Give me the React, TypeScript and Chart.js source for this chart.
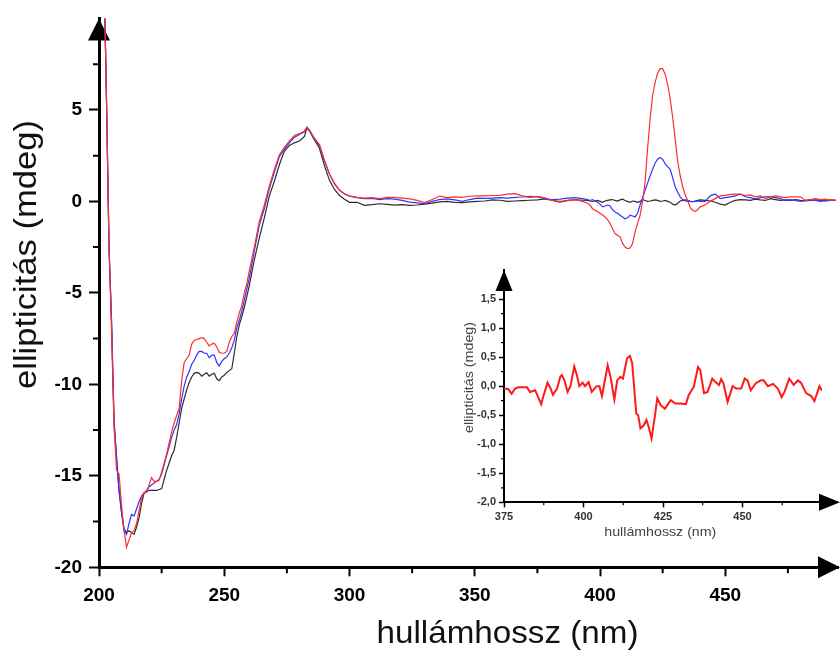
import React, { useEffect, useRef } from "react";
import { Chart, registerables } from "chart.js";

Chart.register(...registerables);

// ---------- main chart data ----------
const wavelengths = [
  200, 201, 202, 203, 204, 205, 206, 207, 208, 209, 210, 211, 212, 213, 214, 215, 216, 217, 218, 219,
  220, 221, 222, 223, 224, 225, 226, 227, 228, 229, 230, 231, 232, 233, 234, 235, 236, 237, 238, 239,
  240, 241, 242, 243, 244, 245, 246, 247, 248, 249, 250, 251, 252, 253, 254, 255, 256, 257, 258, 259, 260,
  262, 264, 266, 268, 270, 272, 274, 276, 278, 280, 282, 283, 284, 286, 288, 290, 292, 294, 296, 298, 300,
  303, 306, 309, 312, 315, 318, 321, 324, 327, 330, 333, 336, 339, 342, 345, 348, 351, 354, 357, 360,
  363, 366, 369, 372, 375, 378, 381, 384, 387, 390, 393,
  395, 396, 397, 398, 399, 400, 401, 402, 403, 404, 405, 406, 407, 408, 409, 410, 411, 412, 413, 414,
  415, 416, 417, 418, 419, 420, 421, 422, 423, 424, 425, 426, 427, 428, 429, 430, 431, 432, 433, 434,
  435, 436, 437, 438, 439, 440,
  442, 444, 446, 448, 450, 452, 454, 456, 458, 460, 462, 464, 466, 468, 470, 472, 474, 476, 478, 480,
  482, 484, 486, 488, 490, 492, 494,
];

const redSeries = [
  22, 16.5, 12.5, 5.5, -2.5, -7.0, -12.3, -14.7, -14.9, -16.6, -18.0, -18.9, -18.5, -18.1, -18.0, -17.6, -16.9, -16.2, -15.9, -15.9,
  -15.5, -15.1, -15.3, -15.3, -15.25, -14.8, -14.3, -13.8, -13.2, -12.6, -12.1, -11.7, -11.3, -9.8, -8.8, -8.6, -8.4, -7.8, -7.6, -7.55,
  -7.5, -7.45, -7.5, -7.7, -7.9, -7.8, -7.75, -7.95, -8.25, -8.3, -8.3, -8.2, -7.7, -7.4, -7.2, -6.6, -6.1, -5.7, -5.0, -4.5, -3.8,
  -2.5, -1.1, -0.2, 0.85, 1.75, 2.55, 2.95, 3.3, 3.6, 3.7, 3.85, 4.05, 3.9, 3.45, 3.1, 2.25, 1.5, 1.0, 0.62, 0.42, 0.3,
  0.22, 0.18, 0.2, 0.15, 0.22, 0.22, 0.18, 0.14, 0.05, -0.07, 0.1, 0.29, 0.2, 0.24, 0.22, 0.28, 0.3, 0.3, 0.32, 0.33,
  0.4, 0.42, 0.3, 0.22, 0.27, 0.2, 0.05, 0.0, 0.04, 0.1, 0.0,
  -0.1, -0.2, -0.4, -0.48, -0.55, -0.65, -0.75, -0.85, -1.0, -1.2, -1.5, -1.76, -1.85, -1.94, -2.3, -2.5, -2.58, -2.55, -2.3, -1.67,
  -1.2, -0.76, 0.0, 1.05, 2.9, 4.5, 5.8, 6.5, 7.0, 7.25, 7.25, 6.95, 6.4, 5.6, 4.6, 3.4, 2.2, 1.4, 0.8, 0.35,
  0.05, -0.35, -0.5, -0.55, -0.45, -0.3,
  -0.2, 0.0, 0.15, 0.3, 0.33, 0.38, 0.4, 0.4, 0.32, 0.35, 0.25, 0.3, 0.15, 0.25, 0.3, 0.25, 0.2, 0.25, 0.25, 0.25,
  0.05, 0.1, 0.15, 0.1, 0.12, 0.05, 0.08,
];

const blueSeries = [
  22, 16.5, 12.5, 5.5, -2.5, -6.5, -12.0, -14.0, -15.8, -17.0, -18.0, -18.2, -17.6, -17.1, -17.2, -16.8, -16.4, -16.1, -15.95, -15.8,
  -15.6, -15.5, -15.4, -15.3, -15.2, -14.9, -14.4, -13.9, -13.4, -12.9, -12.5, -12.2, -11.6, -10.8, -10.1, -9.6, -9.3, -8.9, -8.7, -8.4,
  -8.2, -8.2, -8.3, -8.3, -8.55, -8.4, -8.4, -8.8, -9.0, -8.75, -8.6, -8.5, -8.3, -8.0, -7.6, -6.9, -6.5, -6.0, -5.4, -4.8, -4.2,
  -2.7, -1.3, -0.4, 0.7, 1.6, 2.45, 2.85, 3.2, 3.5, 3.65, 3.8, 4.05, 3.9, 3.4, 3.05, 2.2, 1.5, 0.95, 0.6, 0.4, 0.28,
  0.2, 0.15, 0.16, 0.1, 0.15, 0.12, 0.05, -0.04, -0.08, -0.13, 0.0, 0.1, 0.14, 0.08, 0.0, 0.1, 0.18, 0.16, 0.18, 0.2,
  0.18, 0.22, 0.24, 0.27, 0.25, 0.15, 0.09, 0.12, 0.18, 0.2, 0.15,
  0.1, 0.05, 0.1, 0.02, -0.05, -0.15, -0.3, -0.25, -0.2, -0.25, -0.45, -0.58, -0.65, -0.76, -0.85, -0.95, -0.9, -0.76, -0.8, -0.85,
  -0.65, -0.2, 0.2, 0.6, 1.0, 1.4, 1.75, 2.1, 2.3, 2.4, 2.3, 2.05, 1.9, 1.75, 1.3, 0.8, 0.5, 0.25, 0.1, 0.02,
  0.0, 0.0, -0.02, 0.0, 0.02, 0.0,
  0.0, 0.3, 0.4, 0.15, 0.2, 0.25, 0.3, 0.4, 0.25, 0.2, 0.14, 0.2, 0.25, 0.25, 0.2, 0.15, 0.05, 0.1, 0.05, 0.0,
  0.05, 0.1, 0.05, 0.0, 0.05, 0.08, 0.05,
];

const blackSeries = [
  22, 16.5, 12.5, 5.5, -2.5, -6.5, -12.0, -14.0, -15.8, -17.0, -17.9, -18.1, -18.0, -18.1, -18.2, -17.8, -17.3, -16.5, -15.95, -15.85,
  -15.8, -15.8, -15.8, -15.8, -15.75, -15.7, -15.2, -14.7, -14.3, -13.9, -13.6, -12.9, -12.1, -11.3, -10.8, -10.3, -9.9, -9.6, -9.4, -9.35,
  -9.4, -9.55, -9.45, -9.37, -9.55, -9.45, -9.4, -9.7, -9.8, -9.6, -9.5, -9.35, -9.25, -9.15, -8.3, -7.4, -6.75, -6.3, -5.8, -5.2, -4.6,
  -3.2, -2.0, -0.9, 0.3, 1.1, 2.0, 2.75, 3.05, 3.2, 3.3, 3.55, 4.0, 3.85, 3.35, 2.9, 1.95, 1.15, 0.65, 0.32, 0.12, -0.05,
  -0.05, -0.22, -0.18, -0.13, -0.16, -0.2, -0.18, -0.22, -0.2, -0.15, -0.1, -0.03, 0.0, -0.05, -0.07, -0.03, 0.0, 0.02, 0.08, 0.06,
  0.0, 0.02, 0.04, 0.06, 0.08, 0.13, 0.05, -0.04, 0.05, 0.09, 0.06,
  0.05, 0.02, 0.0, 0.02, 0.05, 0.0, -0.05, 0.02, 0.05, 0.08, 0.1, 0.05, 0.02, 0.08, 0.12, 0.05, 0.0, -0.05, 0.02, 0.0,
  -0.05, 0.0, 0.1, 0.05, 0.0, 0.02, 0.05, 0.08, 0.05, 0.0, 0.02, 0.05, 0.0, -0.05, -0.15, -0.2, -0.1, 0.02, 0.05, 0.08,
  0.05, 0.0, -0.02, 0.02, 0.05, 0.08,
  0.05, 0.02, -0.05, -0.15, -0.2, -0.05, 0.05, 0.1, 0.08, 0.05, 0.12, 0.08, 0.05, 0.15, 0.1, 0.05, 0.08, 0.05, 0.1, 0.05,
  0.02, 0.05, 0.08, 0.05, 0.02, 0.05, 0.05,
];

const mainXTicks = [200, 250, 300, 350, 400, 450];
const mainXMinor = [225, 275, 325, 375, 425, 475];
const mainYTicks = [-20, -15, -10, -5, 0, 5];
const mainYMinor = [-17.5, -12.5, -7.5, -2.5, 2.5, 7.5];

// ---------- inset data ----------
const insetWavelengths = [
  375, 376.3, 377.4, 378.5, 379.5, 382.2, 383.2, 384.8, 386.7, 387.4, 388.7, 389.5, 390.4, 391.7, 392.7, 393.2,
  394, 395, 395.9, 397.1, 397.9, 398.7, 399.7, 400.5, 401.6, 402.6, 404.1, 405, 405.8, 407.6, 408.5, 409.7,
  410.6, 411.6, 412.4, 413.7, 414.6, 415.3, 416.6, 417.2, 417.9, 419, 419.8, 420.6, 421.4, 422.5, 423.2, 424.3,
  425.6, 427.4, 428.9, 430.5, 432.2, 433.1, 434.7, 436, 436.7, 437.9, 439, 440.5, 441.5, 442.6, 443.3, 444,
  445.3, 446.9, 448, 449.6, 450.7, 451.6, 452.6, 454.2, 455.8, 456.6, 458, 459.6, 461.1, 462.3, 463.2, 464.7,
  466.1, 467.4, 468.4, 470, 471.6, 472.6, 474.2, 475,
];
const insetValues = [
  -0.04, -0.05, -0.13, -0.04, -0.02, -0.02, -0.1, -0.07, -0.31, -0.17, 0.06, -0.02, -0.15, -0.04, 0.16, 0.19,
  0.1, -0.1, 0.0, 0.34, 0.19, 0.0, 0.06, 0.0, 0.07, -0.1, 0.0, 0.0, -0.17, 0.36, 0.16, -0.23,
  0.1, 0.16, 0.13, 0.48, 0.52, 0.4, -0.47, -0.5, -0.73, -0.67, -0.58, -0.72, -0.9, -0.5, -0.21, -0.33,
  -0.39, -0.24, -0.3, -0.3, -0.31, -0.15, -0.01, 0.33, 0.28, -0.12, -0.1, 0.13, 0.07, 0.02, 0.12, 0.05,
  -0.27, 0.0, -0.04, -0.04, 0.13, 0.1, -0.07, 0.05, 0.1, 0.1, 0.0, 0.04, -0.04, -0.19, -0.1, 0.13,
  0.02, 0.1, 0.06, -0.12, -0.17, -0.26, 0.0, -0.08,
];
const insetXTicks = [375, 400, 425, 450];
const insetXMinor = [387.5, 412.5, 437.5, 462.5];
const insetYTicks = [-2, -1.5, -1, -0.5, 0, 0.5, 1, 1.5];
const insetYMinor = [-1.75, -1.25, -0.75, -0.25, 0.25, 0.75, 1.25, 1.75];

const FONT = "'Liberation Sans', Arial, Helvetica, sans-serif";

type TitleSpec = {
  text: string;
  x: number;
  y: number;
  size: number;
  width: number;
  rotate: boolean;
  color: string;
};

type DecorSpec = {
  xMinor: number[];
  yMinor: number[];
  minorLen: number;
  minorWidth: number;
  arrowLen: number;
  arrowHalf: number;
  titles: TitleSpec[];
};

function drawFittedText(ctx: CanvasRenderingContext2D, t: TitleSpec) {
  ctx.save();
  ctx.font = `${t.size}px ${FONT}`;
  const w = ctx.measureText(t.text).width;
  const sx = w > 0 ? t.width / w : 1;
  ctx.translate(t.x, t.y);
  if (t.rotate) ctx.rotate(-Math.PI / 2);
  ctx.scale(sx, 1);
  ctx.fillStyle = t.color;
  ctx.textAlign = "center";
  ctx.textBaseline = "alphabetic";
  ctx.fillText(t.text, 0, 0);
  ctx.restore();
}

function makeDecor(spec: DecorSpec) {
  return {
    id: "decor",
    beforeDatasetsDraw(chart: any) {
      const { ctx, chartArea } = chart;
      const xs = chart.scales.x;
      const ys = chart.scales.y;
      ctx.save();
      ctx.strokeStyle = "#000";
      ctx.lineWidth = spec.minorWidth;
      ctx.beginPath();
      spec.xMinor.forEach((v) => {
        const px = xs.getPixelForValue(v);
        ctx.moveTo(px, chartArea.bottom);
        ctx.lineTo(px, chartArea.bottom + spec.minorLen);
      });
      spec.yMinor.forEach((v) => {
        const py = ys.getPixelForValue(v);
        ctx.moveTo(chartArea.left, py);
        ctx.lineTo(chartArea.left - spec.minorLen, py);
      });
      ctx.stroke();
      // arrows
      ctx.fillStyle = "#000";
      ctx.beginPath();
      ctx.moveTo(chartArea.left, chartArea.top);
      ctx.lineTo(chartArea.left - spec.arrowHalf, chartArea.top + spec.arrowLen);
      ctx.lineTo(chartArea.left + spec.arrowHalf, chartArea.top + spec.arrowLen);
      ctx.closePath();
      ctx.fill();
      const tipX = chart.width;
      ctx.beginPath();
      ctx.moveTo(tipX, chartArea.bottom);
      ctx.lineTo(tipX - spec.arrowLen, chartArea.bottom - spec.arrowHalf);
      ctx.lineTo(tipX - spec.arrowLen, chartArea.bottom + spec.arrowHalf);
      ctx.closePath();
      ctx.fill();
      ctx.restore();
    },
    afterDraw(chart: any) {
      const { ctx } = chart;
      spec.titles.forEach((t) => drawFittedText(ctx, t));
    },
  };
}

export default function App() {
  const mainRef = useRef<HTMLCanvasElement>(null);
  const insetRef = useRef<HTMLCanvasElement>(null);

  useEffect(() => {
    const toPoints = (xs: number[], ys: number[]) => xs.map((x, i) => ({ x, y: ys[i] }));

    const main = new Chart(mainRef.current as HTMLCanvasElement, {
      type: "line",
      data: {
        datasets: [
          {
            data: toPoints(wavelengths, redSeries),
            borderColor: "rgb(255,45,45)",
            borderWidth: 1.2,
            pointRadius: 0,
            tension: 0,
            order: 0,
          },
          {
            data: toPoints(wavelengths, blueSeries),
            borderColor: "rgb(50,50,255)",
            borderWidth: 1.2,
            pointRadius: 0,
            tension: 0,
            order: 1,
          },
          {
            data: toPoints(wavelengths, blackSeries),
            borderColor: "rgb(45,45,45)",
            borderWidth: 1.2,
            pointRadius: 0,
            tension: 0,
            order: 2,
          },
        ],
      },
      options: {
        responsive: false,
        animation: false,
        events: [],
        layout: { padding: { top: 15.3, right: 2, left: 0, bottom: 0 } },
        plugins: { legend: { display: false }, tooltip: { enabled: false } },
        scales: {
          x: {
            type: "linear",
            min: 200,
            max: 495,
            afterBuildTicks: (s: any) => {
              s.ticks = mainXTicks.map((v) => ({ value: v }));
            },
            afterFit: (s: any) => {
              s.height = 83.7;
            },
            ticks: {
              color: "#000",
              padding: 8,
              maxRotation: 0,
              autoSkip: false,
              font: { family: FONT, size: 19, weight: "bold" },
            },
            grid: { display: true, drawOnChartArea: false, drawTicks: true, tickLength: 9, tickWidth: 2, tickColor: "#000" },
            border: { display: true, color: "#000", width: 3 },
          },
          y: {
            type: "linear",
            min: -20,
            max: 10,
            afterBuildTicks: (s: any) => {
              s.ticks = mainYTicks.map((v) => ({ value: v }));
            },
            afterFit: (s: any) => {
              s.width = 99;
            },
            ticks: {
              color: "#000",
              padding: 7,
              autoSkip: false,
              font: { family: FONT, size: 19, weight: "bold" },
            },
            grid: { display: true, drawOnChartArea: false, drawTicks: true, tickLength: 10, tickWidth: 2, tickColor: "#000" },
            border: { display: true, color: "#000", width: 3 },
          },
        },
      },
      plugins: [
        makeDecor({
          xMinor: mainXMinor,
          yMinor: mainYMinor,
          minorLen: 6,
          minorWidth: 2,
          arrowLen: 22,
          arrowHalf: 11,
          titles: [
            { text: "hullámhossz (nm)", x: 507.5, y: 643, size: 32, width: 262, rotate: false, color: "#111" },
            { text: "ellipticitás (mdeg)", x: 36, y: 254.5, size: 32, width: 269, rotate: true, color: "#111" },
          ],
        }),
      ],
    } as any);

    const fmt = (v: number) => v.toFixed(1).replace(".", ",");

    const inset = new Chart(insetRef.current as HTMLCanvasElement, {
      type: "line",
      data: {
        datasets: [
          {
            data: toPoints(insetWavelengths, insetValues),
            borderColor: "rgb(255,25,25)",
            borderWidth: 2,
            pointRadius: 0,
            tension: 0,
          },
        ],
      },
      options: {
        responsive: false,
        animation: false,
        events: [],
        layout: { padding: { top: 20, right: 18, left: 0, bottom: 0 } },
        plugins: { legend: { display: false }, tooltip: { enabled: false } },
        scales: {
          x: {
            type: "linear",
            min: 375,
            max: 475,
            afterBuildTicks: (s: any) => {
              s.ticks = insetXTicks.map((v) => ({ value: v }));
            },
            afterFit: (s: any) => {
              s.height = 47.7;
            },
            ticks: {
              color: "#333",
              padding: 3,
              maxRotation: 0,
              autoSkip: false,
              font: { family: FONT, size: 11, weight: "bold" },
            },
            grid: { display: true, drawOnChartArea: false, drawTicks: true, tickLength: 5, tickWidth: 1.5, tickColor: "#000" },
            border: { display: true, color: "#000", width: 2 },
          },
          y: {
            type: "linear",
            min: -2,
            max: 2,
            afterBuildTicks: (s: any) => {
              s.ticks = insetYTicks.map((v) => ({ value: v }));
            },
            afterFit: (s: any) => {
              s.width = 64;
            },
            ticks: {
              color: "#333",
              padding: 3,
              autoSkip: false,
              font: { family: FONT, size: 11, weight: "bold" },
              callback: (v: any) => fmt(Number(v)),
            },
            grid: { display: true, drawOnChartArea: false, drawTicks: true, tickLength: 5, tickWidth: 1.5, tickColor: "#000" },
            border: { display: true, color: "#000", width: 2 },
          },
        },
      },
      plugins: [
        makeDecor({
          xMinor: insetXMinor,
          yMinor: insetYMinor,
          minorLen: 3,
          minorWidth: 1.2,
          arrowLen: 21,
          arrowHalf: 8.5,
          titles: [
            { text: "hullámhossz (nm)", x: 220.3, y: 286, size: 13, width: 112, rotate: false, color: "#444" },
            { text: "ellipticitás (mdeg)", x: 32.5, y: 127.5, size: 13, width: 111, rotate: true, color: "#444" },
          ],
        }),
      ],
    } as any);

    return () => {
      main.destroy();
      inset.destroy();
    };
  }, []);

  return (
    <div style={{ position: "absolute", left: 0, top: 0, width: 840, height: 651, background: "#fff" }}>
      <canvas
        ref={mainRef}
        width={840}
        height={651}
        style={{ position: "absolute", left: 0, top: 0, width: 840, height: 651 }}
      />
      <canvas
        ref={insetRef}
        width={400}
        height={300}
        style={{ position: "absolute", left: 440, top: 250, width: 400, height: 300 }}
      />
    </div>
  );
}
